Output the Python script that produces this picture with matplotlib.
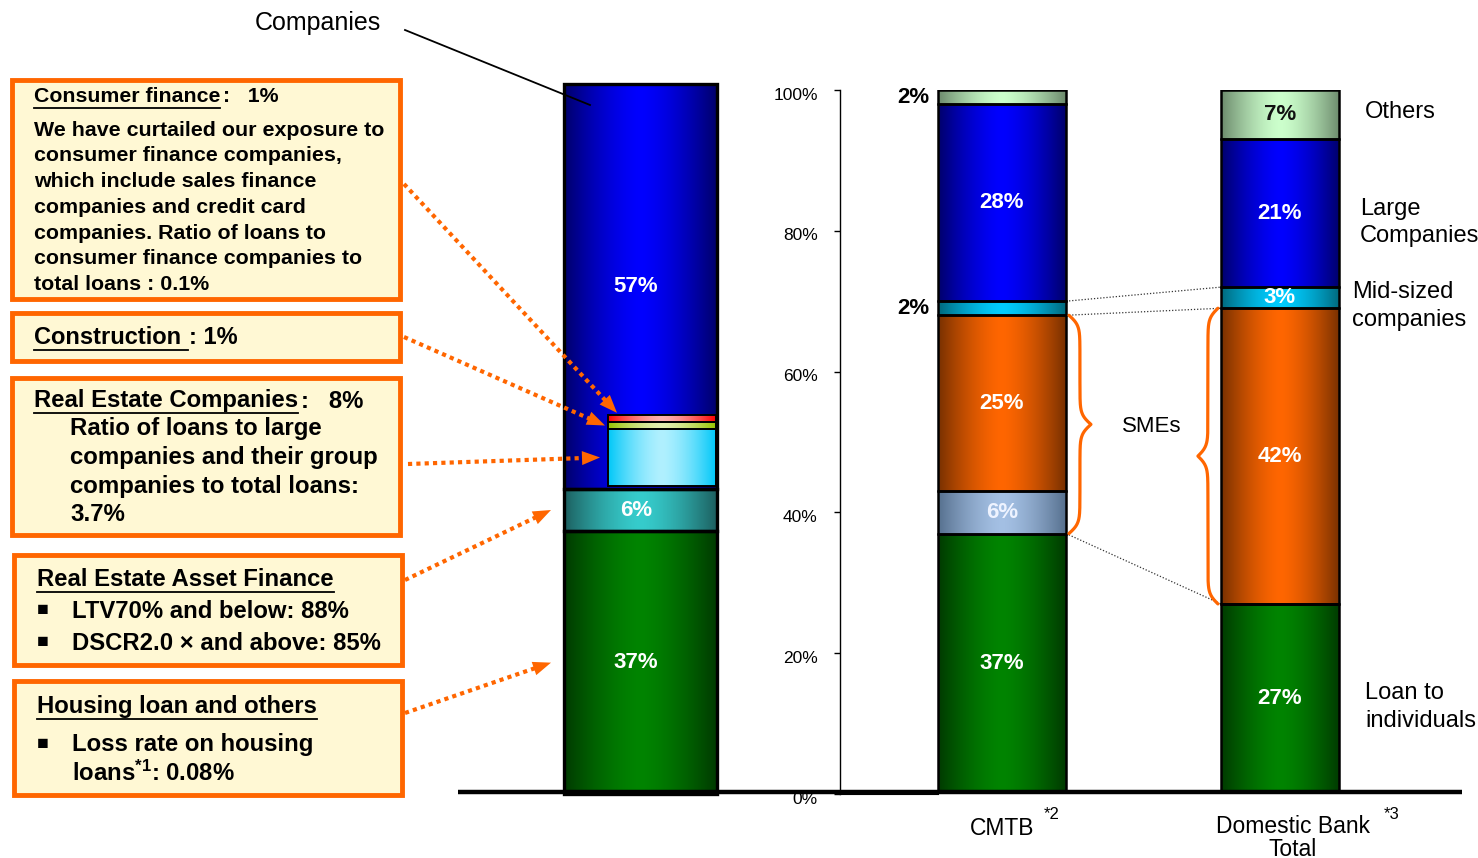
import numpy as np
import matplotlib
matplotlib.use('Agg')
import matplotlib.pyplot as plt
from matplotlib import font_manager
from matplotlib.colors import to_rgb
from matplotlib.patches import Rectangle, Polygon
from matplotlib.transforms import ScaledTranslation

plt.rcParams['font.family'] = ['Liberation Sans', 'DejaVu Sans']
plt.rcParams['mathtext.fontset'] = 'custom'
plt.rcParams['mathtext.rm'] = 'Liberation Sans:bold'
plt.rcParams['mathtext.it'] = 'Liberation Sans:bold'
plt.rcParams['mathtext.bf'] = 'Liberation Sans:bold'

# loan book of the bank, % of total loans
left_names = ['Housing loan and others', 'Real Estate Asset Finance', 'Companies']
left_values = [37, 6, 57]
# sectors singled out inside the companies block
sector_names = ['Real Estate Companies', 'Construction', 'Consumer finance']
sector_values = [8, 1, 1]

# comparison: CMTB vs domestic bank total, % of loans
banks = ['CMTB', 'Domestic Bank\nTotal']
bank_notes = ['*2', '*3']
seg_names = ['Loan to individuals', 'SMEs (other)', 'SMEs', 'Mid-sized companies',
             'Large Companies', 'Others']
cmtb_values = [37, 6, 25, 2, 28, 2]
domestic_values = [27, 0, 42, 3, 21, 7]

# (edge, centre) colours of the shaded bars
left_colors = {'Housing loan and others': ('#003a00', '#008400'),
               'Real Estate Asset Finance': ('#1d5f5f', '#36cccc'),
               'Companies': ('#00006a', '#0000ff')}
sector_colors = {'Real Estate Companies': ('#00c8f8', '#b0f0ff'),
                 'Construction': ('#98c400', '#e2eeb0'),
                 'Consumer finance': ('#ff0000', '#ffb0b0')}
seg_colors = {'Loan to individuals': ('#003a00', '#008400'),
              'SMEs (other)': ('#56708e', '#a4c0e4'),
              'SMEs': ('#773000', '#ff6600'),
              'Mid-sized companies': ('#00687c', '#00ccff'),
              'Large Companies': ('#00006a', '#0000ff'),
              'Others': ('#6c8a6c', '#ccffcc')}
label_colors = {'Others': '#111111', 'SMEs (other)': '#eef3ff'}


def installed(name):
    try:
        font_manager.findfont(font_manager.FontProperties(family=name),
                              fallback_to_default=False)
        return True
    except ValueError:
        return False


if installed('Liberation Sans Narrow'):
    num_font = dict(family='Liberation Sans Narrow', fontweight='bold', fontsize=18)
else:
    num_font = dict(family='Liberation Sans', fontweight='bold', fontsize=16)


def shade(ax, rects, edge, mid):
    c0, c1 = np.array(to_rgb(edge)), np.array(to_rgb(mid))
    u = np.linspace(-1, 1, 256)
    w = 1 - np.abs(u) ** 1.5
    img = (c0 + (c1 - c0) * w[:, None])[None, :, :]
    for r in rects:
        if r.get_height() <= 0:
            continue
        x0, y0 = r.get_x(), r.get_y()
        im = ax.imshow(img, extent=[x0, x0 + r.get_width(), y0, y0 + r.get_height()],
                       aspect='auto', interpolation='bilinear', zorder=1.5)
        im.set_clip_path(r)


W, H = 1478, 858
fig = plt.figure(figsize=(W / 100, H / 100), dpi=100)

# overlay in pixel units for the boxes, arrows and braces
ov = fig.add_axes([0, 0, 1, 1], zorder=5)
ov.set_xlim(0, W)
ov.set_ylim(H, 0)
ov.axis('off')
ov.patch.set_visible(False)


def to_px(a, x, y):
    return ov.transData.inverted().transform(a.transData.transform((x, y)))


# ---- left bar: breakdown of the loan book ----
axL = fig.add_axes([564 / W, (H - 794) / H, 153 / W, 710 / H])
axL.axis('off')
lb = np.concatenate([[0], np.cumsum(left_values)[:-1]])
rects = axL.bar(np.zeros(len(left_values)), left_values, 1.0, bottom=lb,
                facecolor='none', edgecolor='black', lw=2.4, zorder=3, clip_on=False)
for r, name in zip(rects, left_names):
    shade(axL, [r], *left_colors[name])
for r, v in zip(rects, left_values):
    axL.text(-0.03, r.get_y() + v / 2, f'{v}%', color='white', ha='center',
             va='center', zorder=4, **num_font)

ib = lb[2] + 0.4 + np.concatenate([[0], np.cumsum(sector_values)[:-1]])
srects = axL.bar(np.full(len(sector_values), 0.14), sector_values, 0.705, bottom=ib,
                 facecolor='none', edgecolor='black', lw=1.4, zorder=3.5)
for r, name in zip(srects, sector_names):
    shade(axL, [r], *sector_colors[name])
axL.set_xlim(-0.5, 0.5)
axL.set_ylim(0, 100)

# ---- right chart: CMTB vs domestic banks ----
ax = fig.add_axes([840 / W, (H - 794) / H, (W - 840) / W, 704 / H])
ax.set_facecolor('none')
pos = np.arange(1, len(banks) + 1)
widths = [0.46, 0.425]
bank_vals = [cmtb_values, domestic_values]
bottoms = [np.concatenate([[0], np.cumsum(v)[:-1]]) for v in bank_vals]
for i, name in enumerate(seg_names):
    heights = [v[i] for v in bank_vals]
    bots = [b[i] for b in bottoms]
    rects = ax.bar(pos, heights, widths, bottom=bots, facecolor='none',
                   edgecolor='black', lw=1.8, zorder=3)
    shade(ax, rects, *seg_colors[name])
    for j, r in enumerate(rects):
        v = heights[j]
        if v == 0:
            continue
        yc = bots[j] + v / 2
        if v <= 2:
            ax.annotate(f'{v}%', (r.get_x(), yc), xytext=(-6, 0),
                        textcoords='offset points', ha='right', va='center',
                        color='black', annotation_clip=False, **num_font)
        else:
            ax.text(pos[j], yc, f'{v}%', ha='center', va='center', zorder=4,
                    color=label_colors.get(name, 'white'), **num_font)

cm_top = np.cumsum(cmtb_values)
dm_top = np.cumsum(domestic_values)
x_a = pos[0] + widths[0] / 2
x_b = pos[1] - widths[1] / 2
for ya, yb in [(cm_top[3], dm_top[3]), (cm_top[2], dm_top[2]),
               (bottoms[0][1], bottoms[1][2])]:
    ax.plot([x_a, x_b], [ya, yb], color='#333333', lw=0.9, ls=(0, (1, 1.5)), zorder=2)

x_lo = 1 - 162 / 278
ax.set_xlim(x_lo, 2 + 198 / 278)
ax.set_ylim(0, 100)
ax.set_yticks(range(0, 101, 20), [f'{t}%' for t in range(0, 101, 20)])
ax.set_xticks([])
ax.tick_params(axis='y', direction='out', length=4, width=1, pad=12, labelsize=12.5)
shift = ScaledTranslation(0, -3.5 / 100, fig.dpi_scale_trans)
for lab in ax.get_yticklabels():
    lab.set_transform(lab.get_transform() + shift)
ax.spines['top'].set_visible(False)
ax.spines['right'].set_visible(False)
ax.spines['left'].set_linewidth(1)
ax.spines['bottom'].set_linewidth(0.8)
ax.spines['bottom'].set_bounds(x_lo, pos[0] - widths[0] / 2)

# bank names with footnote marks
ax.annotate(banks[0], (pos[0], 0), xytext=(0, -24.5), textcoords='offset points',
            ha='center', va='center', fontsize=16.5, annotation_clip=False)
ax.annotate(banks[1], (pos[1], 0), xytext=(9.4, -31.5), textcoords='offset points',
            ha='center', va='center', fontsize=16.5, linespacing=1.0,
            annotation_clip=False)
for p, note, dx in zip(pos, bank_notes, [36, 80.6]):
    ax.annotate(note, (p, 0), xytext=(dx, -15), textcoords='offset points',
                ha='center', va='center', fontsize=12, annotation_clip=False)

# segment names beside the domestic bar
x_r = pos[1] + widths[1] / 2
side = [('Others', 5, 18.7, 2.2), ('Large\nCompanies', 4, 15, -6.5),
        ('Mid-sized\ncompanies', 3, 9.4, -6), ('Loan to\nindividuals', 0, 18.7, -5.8)]
for txt, i, dx, dy in side:
    yc = bottoms[1][i] + domestic_values[i] / 2
    ax.annotate(txt, (x_r, yc), xytext=(dx, dy), textcoords='offset points',
                ha='left', va='center', fontsize=17, linespacing=1.32,
                annotation_clip=False)


# SME braces
def brace(x0, ya, yb, w):
    s = np.linspace(0, 1, 200)
    half = (yb - ya) / 2
    k = abs(half) / 5
    f = 1 / (1 + np.exp(-k * s)) + 1 / (1 + np.exp(-k * (s - 1))) - 0.5
    xs = np.concatenate([x0 + w * f, (x0 + w * f)[::-1]])
    ys = np.concatenate([ya + half * s, (yb - half * s)[::-1]])
    ov.plot(xs, ys, color='#ff6600', lw=2.3, solid_capstyle='round')


p_top = to_px(ax, x_a, cm_top[2])
p_bot = to_px(ax, x_a, bottoms[0][1])
brace(p_top[0] + 3, p_top[1], p_bot[1], 22)
p_top = to_px(ax, x_b, dm_top[2])
p_bot = to_px(ax, x_b, bottoms[1][2])
brace(p_top[0] - 3, p_top[1], p_bot[1], -20)
ov.text(1152, 426, 'SMEs', ha='center', va='center', fontsize=16)

# base line under all bars
ov.plot([458, 1462], [792, 792], color='black', lw=3.2, solid_capstyle='butt')

# "Companies" pointer
ov.text(318, 23, 'Companies', ha='center', va='center', fontsize=18)
ov.plot([405, 590], [30, 105], color='black', lw=1.3)

# ---- text boxes ----
boxes = [(12, 80, 388, 219), (12, 313, 388, 48), (12, 378, 388, 157),
         (14, 555, 388, 110), (14, 681, 388, 114)]
for x, y, w, h in boxes:
    ov.add_patch(Rectangle((x, y), w, h, facecolor='#fff8d4', edgecolor='#ff6600',
                           lw=3.5))

bold = dict(fontweight='bold', ha='left', va='center')
heads = []


def header(x, y, text, suffix, size, gap):
    t = ov.text(x, y, text, fontsize=size, **bold)
    heads.append((t, suffix, size, gap))


header(34, 97, 'Consumer finance', ':   1%', 15.3, 3)
body1 = ['We have curtailed our exposure to', 'consumer finance companies,',
         'which include sales finance', 'companies and credit card',
         'companies. Ratio of loans to', 'consumer finance companies to',
         'total loans : 0.1%']
for k, line in enumerate(body1):
    ov.text(34, 130 + k * 25.8, line, fontsize=15.4, **bold)

header(34, 338, 'Construction ', ': 1%', 17, 1)

header(34, 401, 'Real Estate Companies', ':   8%', 17.2, 3)
body3 = ['Ratio of loans to large', 'companies and their group',
         'companies to total loans:', '3.7%']
for k, line in enumerate(body3):
    ov.text(70, 429 + k * 28.6, line, fontsize=17.3, **bold)

header(37, 580, 'Real Estate Asset Finance', '', 17.2, 0)
for y, line in [(611, 'LTV70% and below: 88%'), (643, 'DSCR2.0 \u00d7 and above: 85%')]:
    ov.text(37, y, '\u25a0', fontsize=14, **bold)
    ov.text(72, y, line, fontsize=17.2, **bold)

header(37, 707, 'Housing loan and others', '', 17.2, 0)
ov.text(37, 745, '\u25a0', fontsize=14, **bold)
ov.text(72, 745, 'Loss rate on housing', fontsize=17.2, **bold)
ov.text(72, 773, r'loans$^{*1}$: 0.08%', fontsize=17.2, **bold)


# ---- dotted pointers from the boxes to the bar ----
def pointer(start, tip, head=18, hw=7):
    start, tip = np.asarray(start, float), np.asarray(tip, float)
    d = (tip - start) / np.hypot(*(tip - start))
    n = np.array([-d[1], d[0]])
    base = tip - d * head
    ov.plot([start[0], base[0] + d[0] * 4], [start[1], base[1] + d[1] * 4],
            color='#ff6600', lw=3, ls=(0, (1, 1)))
    ov.add_patch(Polygon([tip, base + n * hw, base - n * hw], closed=True,
                         facecolor='#ff6600', edgecolor='none'))


r_red, r_yel, r_cyan = srects[2], srects[1], srects[0]
t1 = to_px(axL, r_red.get_x(), r_red.get_y() + r_red.get_height()) + [9, -2]
t2 = to_px(axL, r_yel.get_x(), r_yel.get_y() + r_yel.get_height() / 2) + [-3, 0]
t3 = to_px(axL, r_cyan.get_x(), r_cyan.get_y() + r_cyan.get_height() / 2) + [-8, 0]
t4 = to_px(axL, -0.5, lb[1] + left_values[1] / 2) + [-13, 0]
t5 = to_px(axL, -0.5, lb[0] + left_values[0] / 2) + [-13, 0]
pointer((404, 184), t1)
pointer((404, 337), t2)
pointer((408, 464), t3)
pointer((405, 580), t4)
pointer((405, 713), t5)

# underline the box headings and append their figures
fig.canvas.draw()
rend = fig.canvas.get_renderer()
inv = ov.transData.inverted()
for t, suffix, size, gap in heads:
    bb = t.get_window_extent(rend)
    x0 = inv.transform((bb.x0, bb.y0))[0]
    x1 = inv.transform((bb.x1, bb.y1))[0]
    y = t.get_position()[1]
    ov.plot([x0, x1], [y + size * 0.7, y + size * 0.7], color='black', lw=1.3)
    if suffix:
        ov.text(x1 + gap, y, suffix, fontsize=size, **bold)

fig.savefig('out.png', dpi=100)
